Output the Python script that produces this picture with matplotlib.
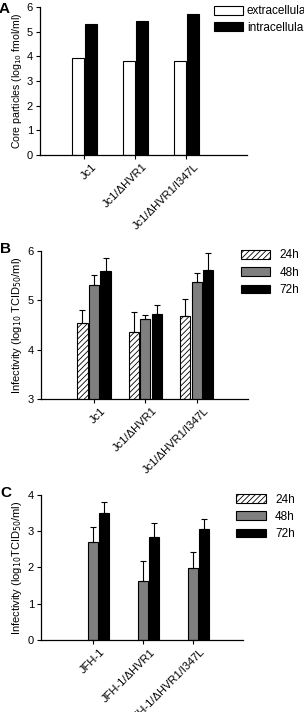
import numpy as np
import matplotlib
matplotlib.use("Agg")
from matplotlib import pyplot as plt
from matplotlib.transforms import ScaledTranslation

plt.rcParams['font.family'] = ['Liberation Sans', 'DejaVu Sans']
plt.rcParams['hatch.linewidth'] = 0.6

# panel A data
a_labels = ["Jc1", "Jc1/\u0394HVR1", "Jc1/\u0394HVR1/I347L"]
a_extra = [3.92, 3.80, 3.83]
a_intra = [5.30, 5.42, 5.70]

# panel B data
b_labels = ["Jc1", "Jc1/\u0394HVR1", "Jc1/\u0394HVR1/I347L"]
b_24 = [4.55, 4.35, 4.68]
b_24_err = [0.25, 0.42, 0.34]
b_48 = [5.32, 4.62, 5.37]
b_48_err = [0.20, 0.08, 0.18]
b_72 = [5.60, 4.72, 5.62]
b_72_err = [0.25, 0.18, 0.33]

# panel C data
c_labels = ["JFH-1", "JFH-1/\u0394HVR1", "JFH-1/\u0394HVR1/I347L"]
c_24 = [np.nan, np.nan, np.nan]
c_24_err = [0, 0, 0]
c_48 = [2.69, 1.64, 1.98]
c_48_err = [0.42, 0.55, 0.45]
c_72 = [3.51, 2.83, 3.06]
c_72_err = [0.31, 0.41, 0.29]

fs = 8
lfs = 8.5

fig = plt.figure(figsize=(3.04, 7.12), dpi=100)

def style_axis(ax):
    ax.spines['top'].set_visible(False)
    ax.spines['right'].set_visible(False)
    ax.tick_params(labelsize=fs, length=3, width=0.8, pad=2)
    for s in ['left', 'bottom']:
        ax.spines[s].set_linewidth(0.9)
    # nudge rotated labels a bit to the right, like the original
    shift = ScaledTranslation(7 / 100, 0, fig.dpi_scale_trans)
    for lab in ax.get_xticklabels():
        lab.set_transform(lab.get_transform() + shift)

# ---- panel A
axA = fig.add_axes([0.1316, 0.7823, 0.681, 0.2079])
x = np.arange(len(a_labels))
w = 0.235
axA.bar(x - 0.13, a_extra, w, color='white', edgecolor='black', linewidth=0.8, label='extracellular')
axA.bar(x + 0.13, a_intra, w, color='black', edgecolor='black', linewidth=0.8, label='intracellular')
axA.set_xlim(-0.87, 3.19)
axA.set_ylim(0, 6)
axA.set_yticks(range(0, 7))
axA.set_xticks(x)
axA.set_xticklabels(a_labels, rotation=45, ha='right', rotation_mode='anchor')
axA.set_ylabel("Core particles (log$_{10}$ fmol/ml)", fontsize=7.6, labelpad=2)
style_axis(axA)
axA.legend(loc='upper left', bbox_to_anchor=(0.84, 1.01), frameon=False, fontsize=lfs,
           handlelength=2.5, handleheight=0.75, handletextpad=0.3, labelspacing=0.35,
           borderaxespad=0, borderpad=0)
fig.text(-0.005, 0.997, "A", fontsize=11, fontweight='bold', va='top')

# ---- B and C share the three time series layout
def timed_panel(rect, labels, v24, e24, v48, e48, v72, e72, ylim, yticks, ylabel, letter):
    ax = fig.add_axes(rect)
    x = np.arange(len(labels))
    w = 0.2
    off = 0.225
    ek = dict(lw=0.8, capsize=2.5, capthick=0.8)
    ax.bar(x - off, v24, w, color='white', edgecolor='black', hatch='//////', linewidth=0.8,
           yerr=[np.zeros(3), e24], error_kw=ek, label='24h')
    ax.bar(x, v48, w, color='#7f7f7f', edgecolor='black', linewidth=0.8,
           yerr=[np.zeros(3), e48], error_kw=ek, label='48h')
    ax.bar(x + off, v72, w, color='black', edgecolor='black', linewidth=0.8,
           yerr=[np.zeros(3), e72], error_kw=ek, label='72h')
    ax.set_xlim(-1.03, 3.0)
    ax.set_ylim(*ylim)
    ax.set_yticks(yticks)
    ax.set_xticks(x)
    ax.set_xticklabels(labels, rotation=45, ha='right', rotation_mode='anchor')
    ax.set_ylabel(ylabel, fontsize=fs, labelpad=3)
    style_axis(ax)
    ax.legend(loc='upper left', bbox_to_anchor=(0.965, 1.01), frameon=False, fontsize=lfs,
              handlelength=2.5, handleheight=0.75, handletextpad=0.8, labelspacing=0.45,
              borderaxespad=0, borderpad=0)
    fig.text(0.0, rect[1] + rect[3] + 0.012, letter, fontsize=11, fontweight='bold', va='top')
    return ax

axB = timed_panel([0.135, 0.4396, 0.681, 0.2079], b_labels, b_24, b_24_err, b_48, b_48_err,
                  b_72, b_72_err, (3, 6), [3, 4, 5, 6],
                  "Infectivity (log$_{10}$ TCID$_{50}$/ml)", "B")
axC = timed_panel([0.135, 0.1011, 0.665, 0.2037], c_labels, c_24, c_24_err, c_48, c_48_err,
                  c_72, c_72_err, (0, 4), [0, 1, 2, 3, 4],
                  "Infectivity (log$_{10}$TCID$_{50}$/ml)", "C")

plt.savefig("out.png", dpi=100)
